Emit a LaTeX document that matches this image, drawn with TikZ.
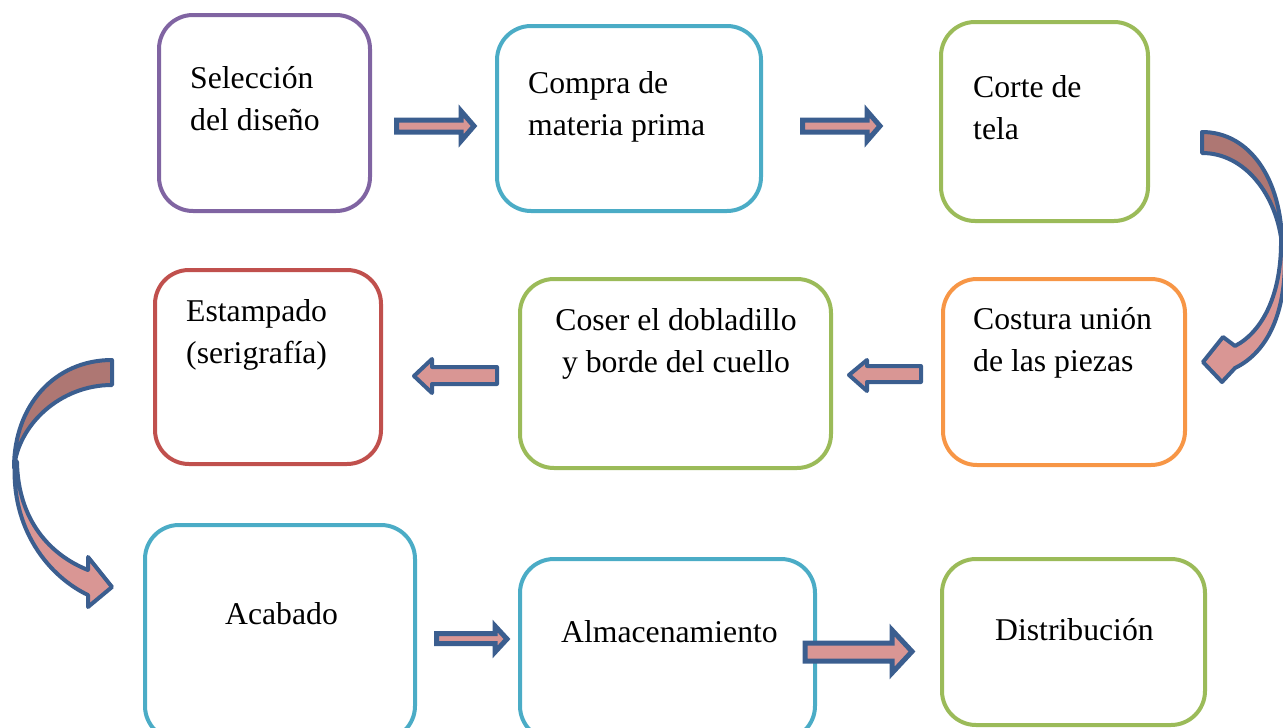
\documentclass[tikz,border=0pt]{standalone}
\usepackage{fontspec}
\setmainfont{Liberation Serif}
\definecolor{cpurple}{HTML}{8064A2}
\definecolor{cteal}{HTML}{4BACC6}
\definecolor{cgreen}{HTML}{9BBB59}
\definecolor{cred}{HTML}{C0504D}
\definecolor{corange}{HTML}{F79646}
\definecolor{aline}{HTML}{3B5E8F}
\definecolor{apink}{HTML}{D99694}
\definecolor{adark}{HTML}{AE7773}
\tikzset{
  procbox/.style={line width=4pt, rounded corners=34pt},
  lbl/.style={inner sep=0pt, anchor=base west, align=left, font=\fontsize{31.7}{42}\selectfont},
  lblc/.style={inner sep=0pt, anchor=base, align=center, font=\fontsize{31.7}{42}\selectfont},
  blockarrow/.style={draw=aline, fill=apink, line width=5pt, line join=miter, miter limit=10},
  roundarrow/.style={draw=aline, fill=apink, line width=4pt, line join=round},
  curvefront/.style={draw=aline, fill=apink, line width=4pt, line join=round},
  curveback/.style={draw=aline, fill=adark, line width=4pt, line join=round}
}
\begin{document}
\begin{tikzpicture}[x=1pt,y=-1pt]
\useasboundingbox (0,0) rectangle (1283,728);
\begin{scope}
\clip (0,0) rectangle (1283,728);
% boxes
\draw[procbox, cpurple] (159,15) rectangle (370,211);
\draw[procbox, cteal] (497,26) rectangle (761,211);
\draw[procbox, cgreen] (941,22) rectangle (1148,221);
\draw[procbox, cred] (155,270) rectangle (381,464);
\draw[procbox, cgreen] (520,279) rectangle (831,468);
\draw[procbox, corange] (943,279) rectangle (1185,465);
\draw[procbox, cteal] (145,525) rectangle (415,740);
\draw[procbox, cteal] (520,559) rectangle (815,740);
\draw[procbox, cgreen] (942,559) rectangle (1205,725);
% labels (multi-line nodes: base is the last line)
\node[lbl] (t1) at (190,130) {Selección\\del diseño};
\node[lbl] (t2) at (528,135) {Compra de\\materia prima};
\node[lbl] (t3) at (973,139) {Corte de\\tela};
\node[lbl] (t4) at (186,363) {Estampado\\(serigrafía)};
\node[lblc] (t5) at (676,372) {Coser el dobladillo\\y borde del cuello};
\node[lbl] (t6) at (973,371) {Costura unión\\de las piezas};
\node[lbl] (t7) at (225,624) {Acabado};
\node[lbl] (t8) at (561,642) {Almacenamiento};
\node[lbl] (t9) at (995,640) {Distribución};
% straight block arrows
\draw[blockarrow] (396.5,120) -- (461,120) -- (461,111) -- (474,126) -- (461,141) -- (461,132) -- (396.5,132) -- cycle;
\draw[blockarrow] (802.5,120) -- (867,120) -- (867,111) -- (880,126) -- (867,141) -- (867,132) -- (802.5,132) -- cycle;
\draw[blockarrow] (436.5,633.5) -- (495,633.5) -- (495,626) -- (507,639) -- (495,652) -- (495,643.5) -- (436.5,643.5) -- cycle;
\draw[blockarrow] (805,643) -- (892,643) -- (892,630) -- (912,651.5) -- (892,673) -- (892,661) -- (805,661) -- cycle;
\draw[roundarrow] (414,376) -- (432,359) -- (432,367) -- (497,367) -- (497,384) -- (432,384) -- (432,393) -- cycle;
\draw[roundarrow] (849,375) -- (867,360) -- (867,366) -- (921,366) -- (921,382) -- (867,382) -- (867,391) -- cycle;
% right curved arrow
\draw[curveback] (1202,132) .. controls (1250,132) and (1282,180) .. (1282,245)
   .. controls (1277,195) and (1245,153) .. (1202,153) -- cycle;
\draw[curvefront] (1281,238) .. controls (1282,295) and (1262,332) .. (1235,346)
   -- (1223,337) -- (1203,362) -- (1222,382) -- (1235,368)
   .. controls (1268,352) and (1290,310) .. (1284,236) -- cycle;
% left curved arrow
\draw[curveback] (112,360) .. controls (55,360) and (14,405) .. (14,468)
   .. controls (18,425) and (60,385) .. (112,385) -- cycle;
\draw[curvefront] (15,460) .. controls (10,530) and (50,577) .. (88,595)
   -- (88,607) -- (112,587) -- (88,557) -- (88,570)
   .. controls (50,555) and (18,520) .. (17,462) -- cycle;
\end{scope}
\end{tikzpicture}
\end{document}
